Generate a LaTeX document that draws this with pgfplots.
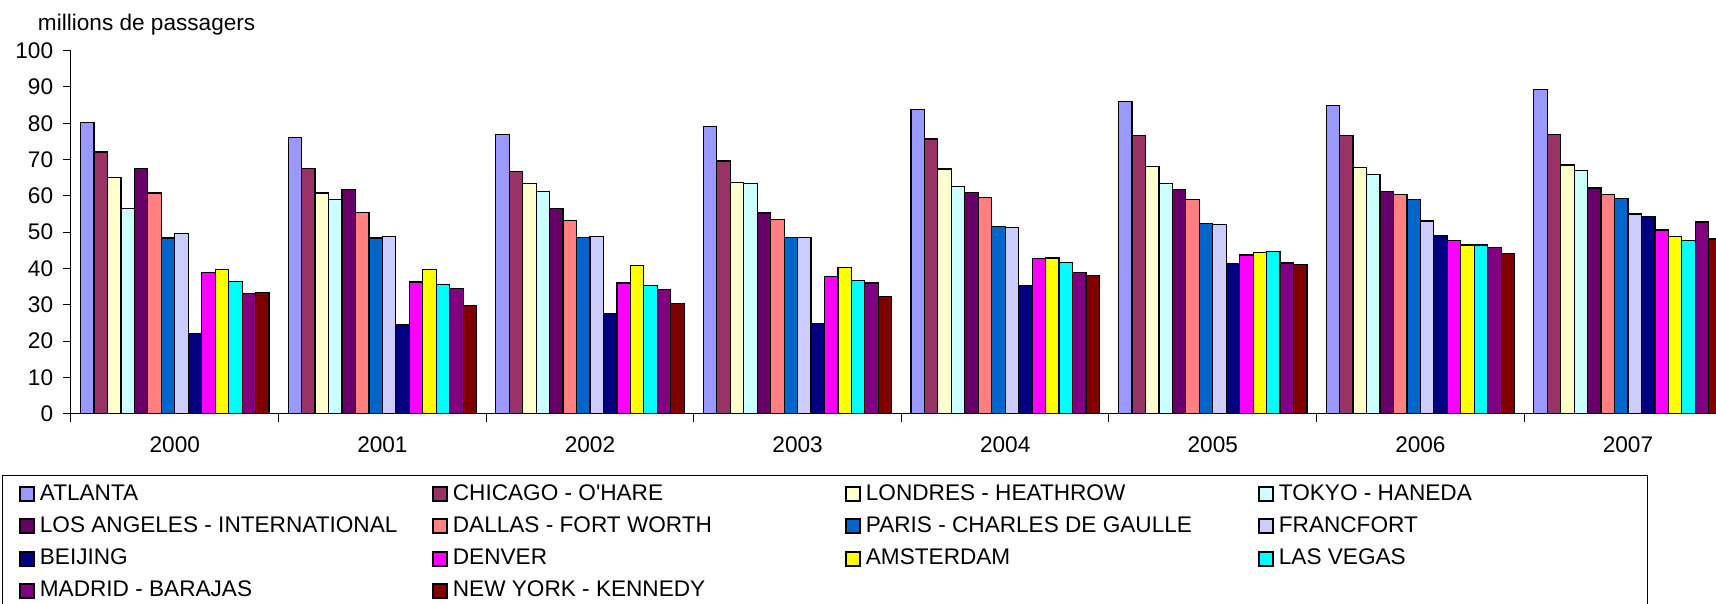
\documentclass[border=0pt]{standalone}
\usepackage{pgfplots}
\pgfplotsset{compat=1.18}
\usepackage{pgfplotstable}
\usepackage{fontspec}
\setmainfont{Liberation Sans}

% Excel palette
\definecolor{cATL}{HTML}{9999FF}
\definecolor{cCHI}{HTML}{993366}
\definecolor{cLON}{HTML}{FFFFCC}
\definecolor{cTOK}{HTML}{CCFFFF}
\definecolor{cLAX}{HTML}{660066}
\definecolor{cDFW}{HTML}{FF8080}
\definecolor{cCDG}{HTML}{0066CC}
\definecolor{cFRA}{HTML}{CCCCFF}
\definecolor{cPEK}{HTML}{000080}
\definecolor{cDEN}{HTML}{FF00FF}
\definecolor{cAMS}{HTML}{FFFF00}
\definecolor{cLAS}{HTML}{00FFFF}
\definecolor{cMAD}{HTML}{800080}
\definecolor{cJFK}{HTML}{800000}

% millions of passengers, 2000..2007 at x = 0..7
\pgfplotstableread{
x ATL  CHI  LON  TOK  LAX  DFW  CDG  FRA  PEK  DEN  AMS  LAS  MAD  JFK
0 80.2 72.1 65.1 56.5 67.6 60.8 48.4 49.6 22.2 39.0 39.8 36.4 33.2 33.4
1 76.0 67.5 60.8 58.9 61.8 55.4 48.4 48.8 24.6 36.3 39.8 35.6 34.4 29.7
2 76.9 66.8 63.5 61.2 56.6 53.2 48.6 48.8 27.6 36.0 40.9 35.3 34.2 30.4
3 79.2 69.6 63.7 63.4 55.3 53.5 48.5 48.6 24.9 37.9 40.3 36.7 36.0 32.2
4 83.7 75.7 67.4 62.5 61.0 59.6 51.6 51.3 35.3 42.8 42.9 41.7 38.8 38.0
5 85.9 76.6 68.1 63.4 61.8 59.1 52.5 52.1 41.3 43.7 44.4 44.6 41.5 41.0
6 84.8 76.7 67.8 66.0 61.3 60.4 59.0 53.1 49.0 47.7 46.5 46.5 45.8 44.1
7 89.4 77.0 68.5 67.0 62.2 60.3 59.2 55.0 54.4 50.6 48.8 47.8 52.8 48.1
}\data

\newcommand{\lent}[1]{\makebox[193.5pt][l]{#1}}
\newcommand{\lentb}[1]{\makebox[174pt][l]{#1}}

\begin{document}
\begin{tikzpicture}[font=\fontsize{11.3}{13.5}\selectfont]
\begin{axis}[
    name=ax,
    scale only axis,
    width=822.5pt, height=181.5pt,
    ybar=0pt, bar width=6.73pt,
    xmin=-0.5, xmax=7.424,
    ymin=0, ymax=100,
    axis x line*=bottom, axis y line*=left,
    axis line style={line width=0.5pt},
    xtick={-0.5,0.5,...,6.5},
    xticklabels={},
    extra x ticks={0,1,2,3,4,5,6,7},
    extra x tick labels={2000,2001,2002,2003,2004,2005,2006,2007},
    extra x tick style={major tick length=0pt,
        xticklabel style={yshift=-8pt}},
    ytick={0,10,...,100},
    tick align=outside,
    major tick length=4pt,
    tick style={black, line width=0.5pt},
    yticklabel style={xshift=-1.4pt},
    /pgf/number format/assume math mode=true,
    title={millions de passagers},
    title style={at={(axis description cs:0,1)}, anchor=west,
        inner sep=0pt, xshift=-16.7pt, yshift=7pt},
    legend columns=4,
    legend cell align=left,
    legend image code/.code={%
        \draw[#1, draw=black, line width=1pt] (0.5pt,-3.5pt) rectangle (7.5pt,3.5pt);},
    legend style={at={(axis description cs:0,0)}, anchor=north west,
        xshift=-34.3pt, yshift=-30.6pt,
        draw=black, line width=0.5pt,
        inner xsep=8pt, inner ysep=3.1pt,
        /tikz/column sep=0pt, /tikz/row sep=3.65pt,
        nodes={inner xsep=2.5pt, inner ysep=1pt,
            text height=8.2pt, text depth=2.3pt}},
]
\addplot[fill=cATL, draw=black, line width=0.6pt] table[x=x, y=ATL] {\data};
\addplot[fill=cCHI, draw=black, line width=0.6pt] table[x=x, y=CHI] {\data};
\addplot[fill=cLON, draw=black, line width=0.6pt] table[x=x, y=LON] {\data};
\addplot[fill=cTOK, draw=black, line width=0.6pt] table[x=x, y=TOK] {\data};
\addplot[fill=cLAX, draw=black, line width=0.6pt] table[x=x, y=LAX] {\data};
\addplot[fill=cDFW, draw=black, line width=0.6pt] table[x=x, y=DFW] {\data};
\addplot[fill=cCDG, draw=black, line width=0.6pt] table[x=x, y=CDG] {\data};
\addplot[fill=cFRA, draw=black, line width=0.6pt] table[x=x, y=FRA] {\data};
\addplot[fill=cPEK, draw=black, line width=0.6pt] table[x=x, y=PEK] {\data};
\addplot[fill=cDEN, draw=black, line width=0.6pt] table[x=x, y=DEN] {\data};
\addplot[fill=cAMS, draw=black, line width=0.6pt] table[x=x, y=AMS] {\data};
\addplot[fill=cLAS, draw=black, line width=0.6pt] table[x=x, y=LAS] {\data};
\addplot[fill=cMAD, draw=black, line width=0.6pt] table[x=x, y=MAD] {\data};
\addplot[fill=cJFK, draw=black, line width=0.6pt] table[x=x, y=JFK] {\data};
\addlegendentry{\lent{ATLANTA}}
\addlegendentry{\lent{CHICAGO - O\textquotesingle HARE}}
\addlegendentry{\lent{LONDRES - HEATHROW}}
\addlegendentry{\lentb{TOKYO - HANEDA}}
\addlegendentry{\lent{LOS ANGELES - INTERNATIONAL}}
\addlegendentry{\lent{DALLAS - FORT WORTH}}
\addlegendentry{\lent{PARIS - CHARLES DE GAULLE}}
\addlegendentry{\lentb{FRANCFORT}}
\addlegendentry{\lent{BEIJING}}
\addlegendentry{\lent{DENVER}}
\addlegendentry{\lent{AMSTERDAM}}
\addlegendentry{\lentb{LAS VEGAS}}
\addlegendentry{\lent{MADRID - BARAJAS}}
\addlegendentry{\lent{NEW YORK - KENNEDY}}
\end{axis}
\pgfresetboundingbox
\path[use as bounding box] ([xshift=-35.5pt,yshift=25.35pt]ax.north west)
    rectangle ([yshift=-95.15pt]ax.south east);
\end{tikzpicture}
\end{document}
